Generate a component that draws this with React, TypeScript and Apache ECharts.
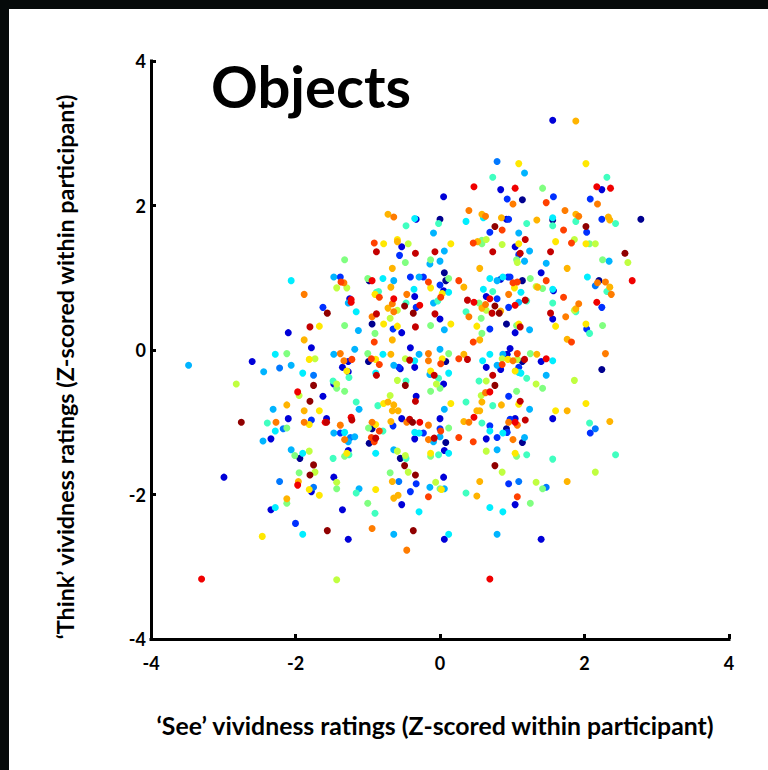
import React, { useEffect, useRef } from "react";
import * as echarts from "echarts";

const titleText = "Objects";
const xTitle = "‘See’ vividness ratings (Z-scored within participant)";
const yTitle = "‘Think’ vividness ratings (Z-scored within participant)";
const ticks = [-4, -2, 0, 2, 4];

type P = [number, number];

const navy: P[] = [[0,1.81],[-0.98,0.96],[-0.94,0.36],[2.78,1.81],[1.56,1.80],[1.14,2.08],[0.06,1.07],[0.08,0.96],[1.14,0.96],[2.20,0.96],[0.92,0.36],[0.08,-0.16],[1.14,-0.16],[2.24,-0.27],[0.92,-1.09],[0.08,-1.28],[1.14,-1.28],[-0.99,-0.16],[-0.94,-1.09],[-0.98,-1.29],[-1.94,-1.50],[-0.55,-1.50]];
const darkBlue: P[] = [[-0.33,1.81],[-0.53,1.43],[-1.25,0.71],[-0.35,0.74],[-0.53,0.24],[-2.10,0.24],[-1.78,0.03],[-0.41,0.03],[0,0.43],[1.56,3.18],[0.84,2.22],[2.24,2.22],[0.05,2.12],[0.92,1.81],[1.04,1.43],[1.40,1.07],[0.84,0.98],[1.57,0.82],[0.05,0.82],[0.64,0.74],[1.56,0.43],[1.04,0.24],[0.97,0.02],[1.40,-0.16],[0.93,-0.06],[0.64,-0.24],[0.84,-0.27],[0.05,-0.47],[1.04,-0.95],[1.56,-0.95],[0.64,-1.23],[0.06,-1.39],[0.05,-1.76],[1.04,-2.14],[0.06,-2.62],[1.40,-2.62],[-2.60,-0.16],[-1.27,-0.16],[-1.35,-0.24],[-1.27,-0.30],[-0.55,-0.26],[-0.35,-0.24],[-1.47,-0.47],[-1.62,-0.64],[-0.33,-0.64],[-2.10,-0.95],[-1.57,-0.95],[-0.53,-0.95],[0,-0.95],[-2.34,-1.23],[-0.35,-1.23],[-1.27,-1.39],[-2.99,-1.76],[-1.47,-1.76],[-1.78,-1.96],[-0.53,-2.14],[-1.35,-2.21],[-2.34,-2.21],[-1.27,-2.62]];
const blue: P[] = [[-0.56,1.31],[-1.38,1.01],[-0.41,1.01],[-0.23,1.01],[0,0.9],[-0.33,0.59],[-1.62,0.59],[-0.65,0.29],[0.93,2.09],[1.57,2.12],[2.08,2.09],[0.95,1.81],[2.24,1.81],[0.69,1.63],[2.03,1.63],[1.09,1.32],[0.94,1.01],[0.97,1.01],[0.79,0.71],[0.95,0.59],[2.24,0.59],[0.69,0.29],[2.03,0.29],[1.09,-0.24],[0.95,-0.64],[0.97,-0.96],[0.69,-1.05],[0.93,-1.14],[2.08,-1.15],[0.79,-1.21],[0.95,-1.85],[-0.57,-0.24],[-1.78,-0.97],[-0.65,-1.05],[0,-1.09],[-1.38,-1.15],[-0.23,-1.15],[-0.33,-1.85],[-0.41,-1.96],[-2.00,-2.40]];
const azure: P[] = [[0.79,2.61],[2.15,0.89],[2.15,-1.09],[1.09,-1.82],[1.47,-1.90],[-2.22,-0.25],[-2.17,-1.09],[-1.24,-1.21],[-2.22,-1.82],[-0.57,-1.82],[-1.75,-1.90],[-1.75,-0.35]];
const sky: P[] = [[-0.09,1.62],[-0.14,1.19],[0,1.23],[-0.64,0.96],[-1.47,1.01],[-0.29,1.01],[-1.27,0.65],[-0.09,0.65],[-1.13,0.27],[-1.18,0.01],[0,0.01],[1.17,2.45],[1.09,1.62],[0.06,1.37],[1.24,1.37],[1.17,1.23],[1.47,1.20],[2.34,1.23],[0.79,0.96],[1.09,0.66],[0.06,0.28],[1.24,0.28],[0.87,-0.06],[0.79,-0.21],[1.47,-0.35],[0.06,-0.82],[1.24,-0.82],[1.17,-1.21],[0.79,-1.38],[0.06,-1.92],[0.79,-2.55],[-3.48,-0.21],[-2.44,-0.30],[-2.06,-0.21],[-1.47,-0.06],[-0.64,-0.21],[-0.29,-0.06],[-0.14,-0.34],[-2.31,-0.82],[-1.12,-0.82],[-1.47,-1.15],[-1.18,-1.20],[-1.27,-1.27],[0,-1.20],[-0.09,-1.27],[-2.45,-1.26],[-2.06,-1.38],[-0.64,-1.38],[-1.12,-1.92],[-0.14,-1.90],[-0.64,-2.55]];
const cyan: P[] = [[-0.35,1.82],[-2.06,0.96],[-0.79,0.99],[-0.36,0.84],[-1.16,0.53],[0.60,1.83],[1.56,1.83],[0.36,1.78],[0.69,0.99],[0.87,1.01],[2.04,1.01],[0.60,0.84],[1.56,0.84],[1.12,0.80],[0.12,0.80],[0.69,-0.06],[0.59,-0.15],[1.56,-0.15],[0.12,-0.32],[1.09,-0.31],[1.12,-0.32],[0.69,-1.12],[0.87,-1.15],[0.12,-1.43],[0.69,-2.18],[0.87,-2.24],[0.12,-2.55],[-2.28,-0.06],[-1.90,-0.32],[-0.79,-0.06],[-0.89,-0.32],[-0.35,-0.15],[-1.32,-1.14],[-0.35,-1.14],[-0.29,-1.15],[-2.28,-1.12],[-1.90,-1.43],[-0.89,-1.43],[-2.28,-2.18],[-0.29,-2.24],[-1.90,-2.55]];
const turquoise: P[] = [[-0.47,1.72],[-0.02,1.75],[-0.88,0.80],[-0.03,0.68],[-0.47,0.65],[-0.85,0.81],[0.73,2.39],[2.31,2.39],[1.88,1.78],[2.43,1.75],[1.20,1.75],[1.56,1.72],[2.31,0.81],[0.73,0.81],[1.20,0.68],[1.56,0.65],[1.88,0.53],[0.36,0.53],[2.07,0.23],[1.20,-0.39],[0.54,-0.43],[0.36,-0.72],[0.73,-0.77],[0.58,-1.01],[2.07,-1.01],[1.20,-1.45],[2.43,-1.45],[1.56,-1.51],[0.36,-1.98],[-1.26,-0.38],[-0.47,-0.43],[-1.48,-0.43],[-1.16,-0.72],[-0.86,-0.77],[-0.02,-0.39],[-2.39,-1.01],[-0.79,-1.12],[-1.48,-1.50],[-1.26,-1.45],[-0.47,-1.50],[-0.02,-1.45],[-1.16,-1.98],[-0.90,-2.26]];
const green: P[] = [[-0.13,1.25],[-1.32,1.25],[-0.48,1.21],[-1.0,0.99],[-1.32,0.34],[-0.13,0.34],[-0.90,0.23],[1.42,2.24],[0.58,1.52],[0.58,1.47],[2.07,1.47],[1.06,1.25],[2.25,1.25],[0.12,0.99],[1.25,0.99],[1.42,0.85],[0.54,0.65],[0.57,0.44],[1.06,0.34],[2.25,0.34],[0.58,0.23],[0.12,-0.05],[1.25,-0.05],[1.42,-0.53],[1.06,-0.57],[0.12,-1.08],[1.06,-1.47],[1.42,-1.92],[1.25,-2.12],[-2.12,-0.05],[-1.00,-0.05],[-0.13,-0.57],[0,-0.53],[-1.43,-0.53],[-1.32,-0.57],[-0.99,-1.08],[-2.12,-1.08],[-2.01,-1.46],[-1.32,-1.47],[-0.13,-1.47],[-1.95,-1.70],[-0.69,-1.70],[-1.43,-1.92],[0,-1.92],[-2.12,-2.12],[-1.00,-2.12]];
const lime: P[] = [[-0.44,1.47],[-1.43,0.86],[-1.29,0.86],[-0.59,0.55],[-0.69,0.44],[1.86,1.53],[0.64,1.53],[0.86,1.46],[2.15,1.47],[1.07,1.21],[2.60,1.21],[1.33,0.88],[0.64,0.55],[1.86,0.55],[0.86,-0.12],[1.07,-0.13],[0.64,-0.43],[1.33,-0.47],[1.86,-0.42],[0.57,-0.63],[0.64,-1.40],[0.86,-1.69],[2.15,-1.69],[1.33,-1.83],[-1.73,-0.12],[-2.82,-0.47],[-0.48,-0.12],[-0.59,-0.42],[-0.05,-0.47],[-1.43,-0.47],[-1.95,-0.63],[-0.69,-0.63],[-1.81,-1.40],[-0.59,-1.40],[-0.48,-1.46],[-1.73,-1.69],[-0.44,-1.69],[-1.43,-1.83],[-0.06,-1.83],[-1.43,-3.18]];
const yellow: P[] = [[-0.78,1.47],[-0.59,1.53],[-0.13,0.86],[-0.90,0.77],[0.03,0.78],[-0.59,0.33],[-0.78,0.36],[-1.67,0.33],[1.09,2.58],[2.02,2.58],[1.60,1.50],[0.15,1.47],[1.09,1.47],[2.02,1.47],[1.03,0.86],[0.15,0.36],[1.09,0.36],[1.60,0.33],[2.02,0.36],[0.51,0.33],[0.94,-0.13],[1.04,-0.29],[0.15,-0.74],[1.09,-0.75],[2.02,-0.74],[1.60,-0.84],[1.04,-1.43],[0.02,-1.93],[-1.81,-0.13],[-1.29,-0.29],[-0.89,-0.13],[0.03,-0.12],[-0.13,-0.29],[-0.78,-0.74],[-1.67,-0.84],[-1.81,-1.03],[-0.89,-1.03],[-1.29,-1.43],[-0.13,-1.43],[-1.81,-1.93],[-0.89,-1.93],[-1.67,-2.01],[-2.46,-2.58]];
const amber: P[] = [[-0.72,1.88],[-0.59,1.50],[-0.66,1.13],[-0.68,0.87],[-0.72,0.58],[-0.66,0.14],[-1.88,0.14],[1.88,3.17],[0.58,1.88],[0.85,1.83],[1.34,1.80],[1.88,1.88],[2.33,1.84],[2.35,1.80],[0.52,1.50],[0.55,1.13],[1.76,1.13],[0.33,0.87],[1.35,0.87],[2.35,0.87],[0.58,0.58],[1.88,0.57],[0.84,0.54],[0.55,0.14],[1.76,0.15],[0.33,-0.06],[1.34,-0.06],[0.58,-0.72],[0.85,-0.76],[0.51,-0.84],[0.55,-0.84],[1.76,-0.84],[0.33,-0.99],[2.35,-0.99],[0.55,-1.82],[1.76,-1.82],[0.51,-2.02],[-0.68,-0.06],[-2.12,-0.76],[-1.88,-0.84],[-0.72,-0.72],[-0.64,-0.76],[-0.66,-0.84],[-0.58,-0.84],[-0.68,-0.99],[-1.96,-1.82],[-0.66,-1.82],[-0.64,-2.05],[-0.58,-2.01],[-2.12,-2.06]];
const orange: P[] = [[-0.64,1.84],[-1.33,0.93],[-1.88,0.77],[-0.46,0.77],[-0.66,0.64],[-0.64,0.53],[-0.94,0.46],[1.01,2.02],[2.18,2.02],[0.40,1.93],[1.73,1.93],[0.63,1.85],[1.92,1.85],[2.18,0.93],[2.29,0.94],[0.95,0.77],[2.37,0.77],[0.63,0.63],[1.92,0.64],[0.40,0.46],[1.74,0.46],[2.29,-0.05],[1.01,-0.15],[0.63,-0.59],[0.40,-1.00],[1.07,-1.04],[0.95,-1.00],[1.01,-1.24],[-1.38,-0.05],[-1.33,-0.15],[-0.16,-0.05],[-0.16,-0.15],[-2.27,-1.00],[-1.88,-1.00],[-1.38,-1.04],[-0.94,-1.00],[-0.46,-1.00],[-0.16,-1.04],[-1.32,-1.24],[-0.16,-1.24],[-0.94,-2.47],[-0.46,-2.77]];
const redOrange: P[] = [[-0.91,1.48],[-1.37,0.94],[-0.16,0.94],[-0.84,0.73],[0.01,0.73],[-0.91,0.11],[1.47,2.04],[0.46,1.48],[1.82,1.48],[0.86,1.66],[1.71,1.66],[1.01,0.93],[1.07,0.94],[0.26,0.96],[1.47,0.96],[1.71,0.73],[0.46,0.11],[1.82,0.11],[1.07,-0.05],[0.86,-0.20],[0.46,-1.27],[1.07,-2.03],[0.26,-0.12],[0.26,-1.21],[-1.22,-0.13],[-0.95,-0.12],[-0.84,-0.20],[0.01,-0.19],[-0.84,-1.12],[-0.95,-1.21],[-0.91,-1.27],[-0.16,-2.03],[0.01,-1.12]];
const red: P[] = [[-0.94,0.96],[-0.64,0.71],[-1.23,0.70],[-1.23,0.66],[-0.28,0.62],[0.47,2.26],[1.04,2.24],[2.17,2.26],[2.36,2.24],[0.69,0.71],[0.47,0.66],[2.17,0.66],[1.04,0.62],[2.66,0.96],[1.47,-0.12],[0.69,-0.58],[0.47,-0.93],[1.04,-1.00],[0.69,-3.17],[-1.97,-0.58],[-1.59,-1.00],[-1.23,-0.93],[-0.28,-1.00],[-1.97,-1.87],[-3.30,-3.17]];
const darkRed: P[] = [[-0.88,1.36],[-0.34,1.34],[-0.07,1.36],[-0.88,0.50],[-0.07,0.50],[-1.80,0.32],[-0.34,0.32],[1.18,1.53],[0.73,1.36],[1.11,1.34],[1.53,1.36],[0.38,0.69],[1.18,0.69],[0.72,0.51],[1.53,0.51],[1.11,0.32],[0.38,-0.13],[1.17,-0.13],[0.73,-0.35],[1.11,-0.71],[1.18,-0.97],[-0.88,-0.35],[-0.42,-0.14],[-0.08,-0.35],[-0.34,-0.71],[-1.57,-1.00],[-1.22,-0.97],[-0.42,-0.96],[-0.89,-1.22],[-0.08,-1.22]];
const maroon: P[] = [[-1.56,0.51],[-0.49,0.61],[-0.37,0.51],[0.76,1.71],[2.02,1.71],[2.56,1.34],[0.76,0.61],[0.82,0.51],[0.76,-0.49],[0.76,-1.60],[-1.75,-0.49],[-0.48,-0.49],[-1.80,-0.71],[-2.75,-1.00],[-0.38,-1.00],[-1.75,-1.59],[-0.49,-1.60],[-1.80,-1.73],[-0.34,-1.73],[-1.56,-2.50],[-0.37,-2.50]];

const groups: [string, string, P[]][] = [
  ["navy", "#00008f", navy],
  ["darkBlue", "#0000d8", darkBlue],
  ["blue", "#0030ff", blue],
  ["azure", "#0078ff", azure],
  ["sky", "#00b4ff", sky],
  ["cyan", "#00eeff", cyan],
  ["turquoise", "#40ffc0", turquoise],
  ["green", "#80ff80", green],
  ["lime", "#c0ff40", lime],
  ["yellow", "#ffe800", yellow],
  ["amber", "#ffb400", amber],
  ["orange", "#ff7c00", orange],
  ["redOrange", "#ff4000", redOrange],
  ["red", "#f00000", red],
  ["darkRed", "#c40000", darkRed],
  ["maroon", "#900000", maroon],
];

const font = "Lato, 'Noto Sans', sans-serif";

export default function App() {
  const ref = useRef<HTMLDivElement>(null);
  useEffect(() => {
    const chart = echarts.init(ref.current!, undefined, { renderer: "svg" });
    const axisLine = { show: true, onZero: false, lineStyle: { color: "#000", width: 3, cap: "square" } };
    const axisTick = { show: true, inside: true, length: 5, lineStyle: { color: "#000", width: 3 } };
    chart.setOption({
      animation: false,
      backgroundColor: "#fff",
      title: {
        text: titleText,
        left: 211,
        top: 56,
        padding: 0,
        textStyle: { fontFamily: font, fontWeight: "bold", fontSize: 58, color: "#000" },
      },
      graphic: [
        { type: "rect", silent: true, shape: { x: 0, y: 0, width: 768, height: 9 }, style: { fill: "#060a0a" } },
        { type: "rect", silent: true, shape: { x: 0, y: 0, width: 9, height: 770 }, style: { fill: "#060a0a" } },
      ],
      grid: { left: 151, right: 39, top: 61, bottom: 131 },
      xAxis: {
        type: "value",
        min: -4,
        max: 4,
        interval: 2,
        splitLine: { show: false },
        axisLine,
        axisTick,
        axisLabel: { margin: 15, color: "#000", fontFamily: font, fontWeight: "bold", fontSize: 18, customValues: ticks },
        name: xTitle,
        nameLocation: "middle",
        nameGap: 74,
        nameTextStyle: { color: "#000", fontFamily: font, fontWeight: "bold", fontSize: 24.8, padding: [0, 10, 0, 0] },
      },
      yAxis: {
        type: "value",
        min: -4,
        max: 4,
        interval: 2,
        splitLine: { show: false },
        axisLine,
        axisTick,
        axisLabel: { margin: 5, color: "#000", fontFamily: font, fontWeight: "bold", fontSize: 18, customValues: ticks },
        name: yTitle,
        nameLocation: "middle",
        nameGap: 75,
        nameTextStyle: { color: "#000", fontFamily: font, fontWeight: "bold", fontSize: 23.3, padding: [0, 34, 0, 0] },
      },
      series: groups.map(([name, color, data]) => ({
        name,
        type: "scatter",
        data,
        symbol: "circle",
        symbolSize: 7,
        itemStyle: { color, opacity: 1 },
        silent: true,
      })),
    });
    return () => chart.dispose();
  }, []);
  return <div ref={ref} style={{ position: "absolute", left: 0, top: 0, width: 768, height: 770 }} />;
}
